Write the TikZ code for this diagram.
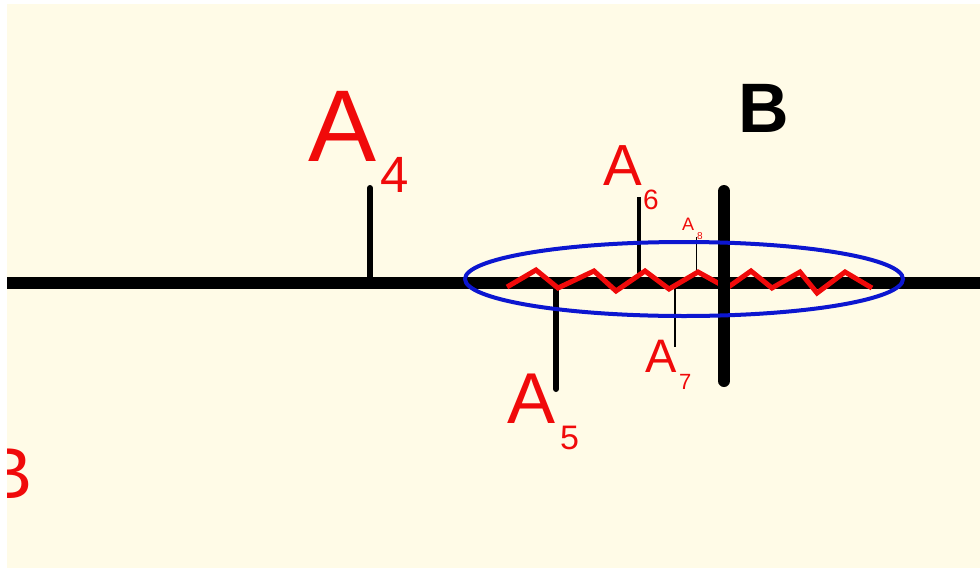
\documentclass[tikz,border=0pt]{standalone}
\usepackage{fontspec}
\usetikzlibrary{shapes.geometric}
\setmainfont{Liberation Sans}
\definecolor{cream}{RGB}{255,251,231}
\definecolor{lblred}{RGB}{240,10,10}
\definecolor{ellblue}{RGB}{12,22,208}
\tikzset{
  lbl/.style={anchor=base west, inner sep=0pt, outer sep=0pt, text=lblred},
  tick/.style={draw=black, line cap=round},
}
\newcommand{\fs}[1]{\fontsize{#1}{#1}\selectfont}
\begin{document}
\begin{tikzpicture}[x=1pt,y=-1pt]
\useasboundingbox (0,0) rectangle (980,568);
\fill[white] (0,0) rectangle (980,568);
\fill[cream] (7,4) rectangle (980,568);
% clipped red B at left edge
\begin{scope}
\clip (7,4) rectangle (980,568);
\node[lbl] (bleft) at (-16,498) {\fs{72}B};
\end{scope}
% main line
\coordinate (mL) at (7,283);
\coordinate (mR) at (980,283);
\draw[line width=12pt] (mL) -- (mR);
% ticks (under the zigzag)
\coordinate (t4a) at (370,283); \coordinate (t4b) at (370,188);
\coordinate (t5a) at (556,283); \coordinate (t5b) at (556,389);
\coordinate (t6a) at (639,275); \coordinate (t6b) at (639,197);
\coordinate (t7a) at (675,288); \coordinate (t7b) at (675,347);
\coordinate (t8a) at (696,270); \coordinate (t8b) at (696,237);
\coordinate (tBa) at (724,191); \coordinate (tBb) at (724,381);
\draw[tick, line width=6pt] (t4a) -- (t4b);
\draw[tick, line width=6pt] (t5a) -- (t5b);
\draw[tick, line width=4pt, line cap=butt] (t6a) -- (t6b);
\draw[tick, line width=2.5pt, line cap=butt] (t7a) -- (t7b);
\draw[tick, line width=1pt, line cap=butt] (t8a) -- (t8b);
% red zigzag
\draw[lblred, line width=5pt, line join=miter] (507,287) -- (536,270) -- (558,288) -- (594,271) -- (616,291) -- (645,271) -- (669,289) -- (698,272) -- (727,288) -- (751,271) -- (772,288) -- (800,272) -- (817,293) -- (845,272) -- (872,288);
% thick B line over the zigzag
\draw[tick, line width=12pt] (tBa) -- (tBb);
% blue ellipse
\node[draw=ellblue, line width=4pt, ellipse, minimum width=438pt, minimum height=74pt, inner sep=0pt] (ell) at (684,279) {};
% labels
\node[lbl] (a4) at (308,161) {\fs{102}A};
\node[lbl] (s4) at (380,192) {\fs{51}4};
\node[lbl] (a5) at (507,423) {\fs{72}A};
\node[lbl] (s5) at (560,449) {\fs{34}5};
\node[lbl] (a6) at (603,185) {\fs{58}A};
\node[lbl] (s6) at (643,209) {\fs{28}6};
\node[lbl] (a7) at (645,372) {\fs{47}A};
\node[lbl] (s7) at (679,389) {\fs{22}7};
\node[lbl] (a8) at (682,230) {\fs{18}A};
\node[lbl] (s8) at (697,239) {\fs{10}8};
\node[anchor=base west, inner sep=0pt, text=black] (bl) at (738,132) {\fs{70}\bfseries B};
\end{tikzpicture}
\end{document}
